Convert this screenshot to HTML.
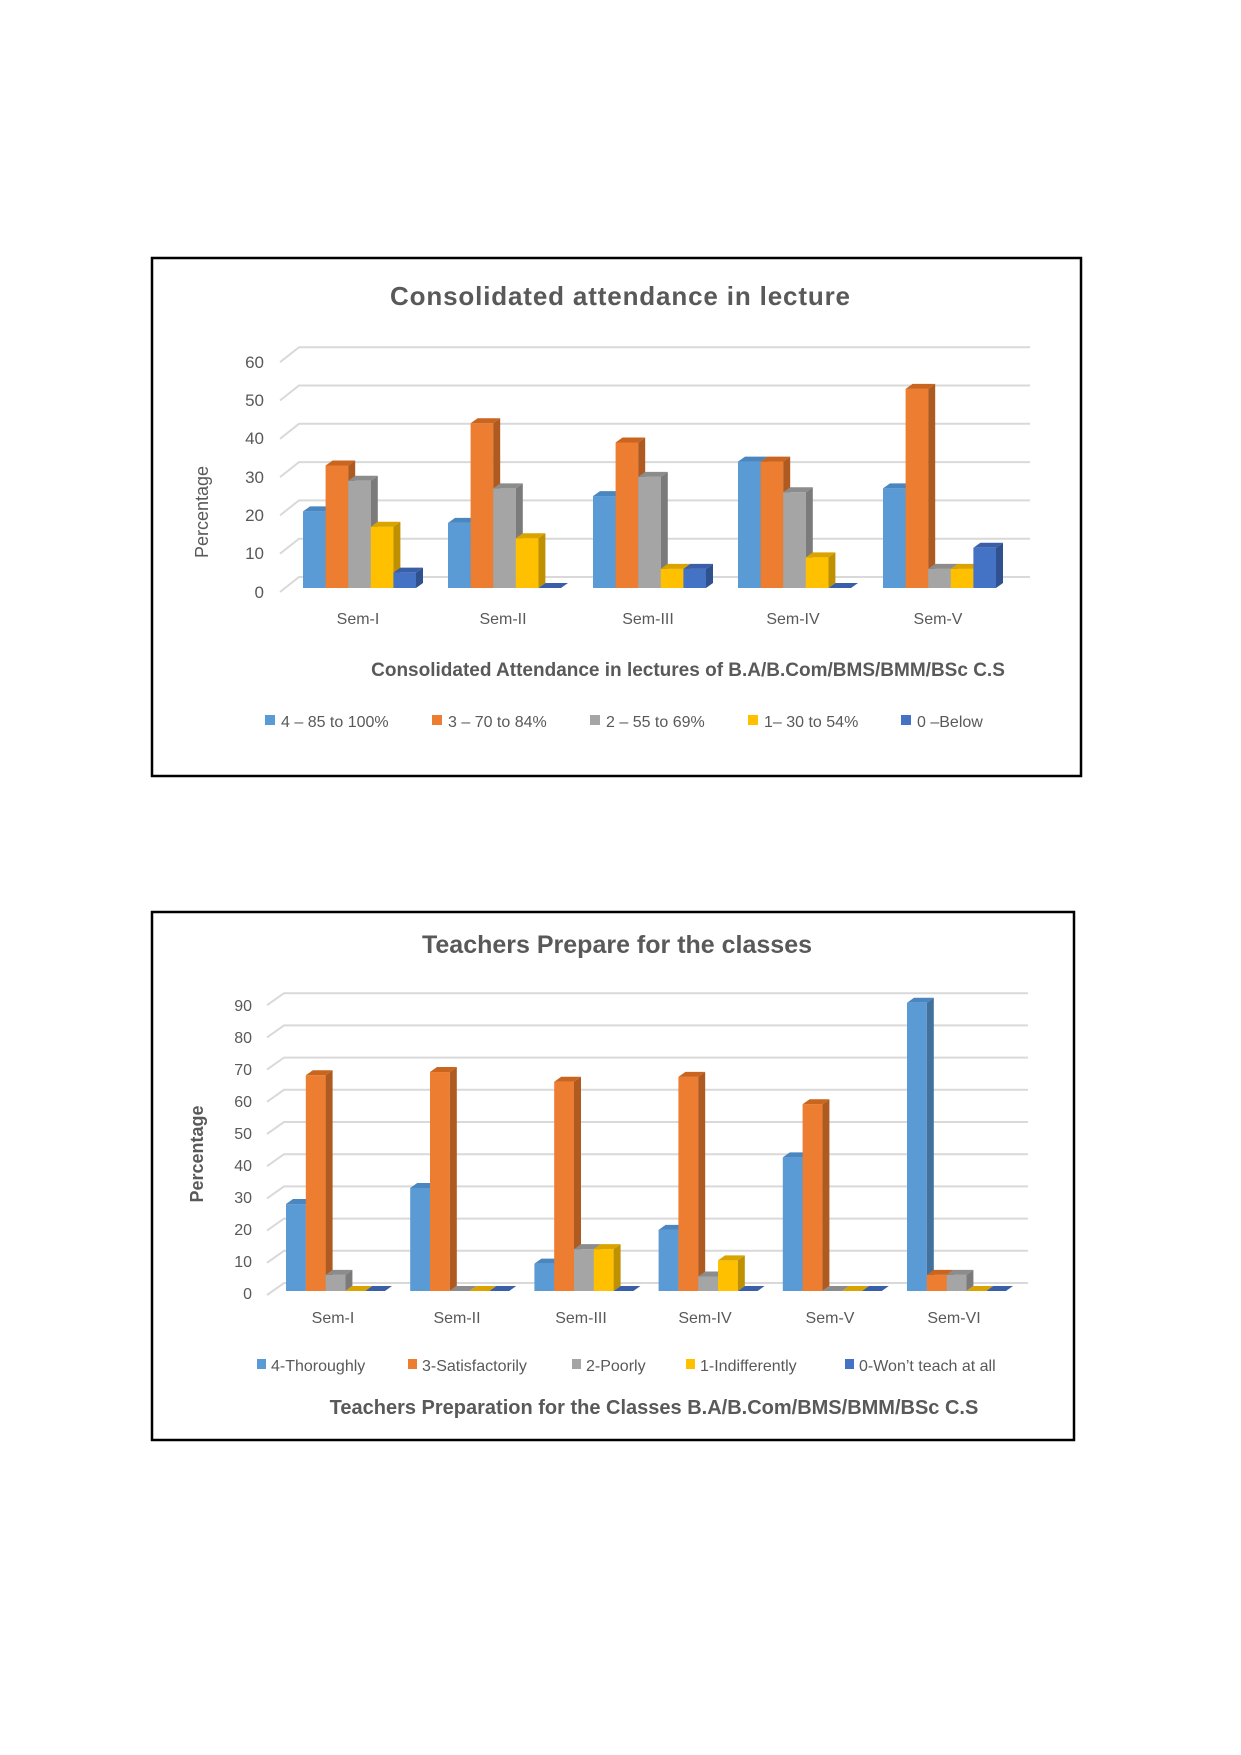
<!DOCTYPE html>
<html><head><meta charset="utf-8"><style>
html,body{margin:0;padding:0;background:#fff;}
svg{display:block;font-family:"Liberation Sans",sans-serif;}
</style></head><body>
<svg id="s" width="1241" height="1755" viewBox="0 0 1241 1755">
<rect x="152" y="258" width="929" height="518" fill="#fff" stroke="#000" stroke-width="2.5"/>
<rect x="152" y="912" width="922" height="528" fill="#fff" stroke="#000" stroke-width="2.5"/>
<g id="g1"></g><g id="g2"></g>
<g fill="#595959">
<text x="620" y="305" font-size="26" font-weight="bold" text-anchor="middle" textLength="460">Consolidated attendance in lecture</text>
<g font-size="17" text-anchor="end">
<text x="264" y="368">60</text><text x="264" y="406">50</text><text x="264" y="444">40</text><text x="264" y="483">30</text><text x="264" y="521">20</text><text x="264" y="559">10</text><text x="264" y="598">0</text>
</g>
<text transform="translate(208,512) rotate(-90)" font-size="18" text-anchor="middle">Percentage</text>
<g font-size="16" text-anchor="middle">
<text x="358" y="624">Sem-I</text><text x="503" y="624">Sem-II</text><text x="648" y="624">Sem-III</text><text x="793" y="624">Sem-IV</text><text x="938" y="624">Sem-V</text>
</g>
<text x="688" y="676" font-size="19" font-weight="bold" text-anchor="middle">Consolidated Attendance in lectures of B.A/B.Com/BMS/BMM/BSc  C.S</text>
<g font-size="16">
<rect x="265" y="715" width="10" height="10" fill="#5B9BD5"/><text x="281" y="727">4 – 85 to 100%</text>
<rect x="432" y="715" width="10" height="10" fill="#ED7D31"/><text x="448" y="727">3 – 70 to 84%</text>
<rect x="590" y="715" width="10" height="10" fill="#A5A5A5"/><text x="606" y="727">2 – 55 to 69%</text>
<rect x="748" y="715" width="10" height="10" fill="#FFC000"/><text x="764" y="727">1– 30 to 54%</text>
<rect x="901" y="715" width="10" height="10" fill="#4472C4"/><text x="917" y="727">0 –Below</text>
</g>
<text x="617" y="953" font-size="25" font-weight="bold" text-anchor="middle">Teachers Prepare for the classes</text>
<g font-size="16" text-anchor="end">
<text x="252" y="1011">90</text><text x="252" y="1043">80</text><text x="252" y="1075">70</text><text x="252" y="1107">60</text><text x="252" y="1139">50</text><text x="252" y="1171">40</text><text x="252" y="1203">30</text><text x="252" y="1235">20</text><text x="252" y="1267">10</text><text x="252" y="1299">0</text>
</g>
<text transform="translate(203,1154) rotate(-90)" font-size="18" font-weight="bold" text-anchor="middle">Percentage</text>
<g font-size="16" text-anchor="middle">
<text x="333" y="1323">Sem-I</text><text x="457" y="1323">Sem-II</text><text x="581" y="1323">Sem-III</text><text x="705" y="1323">Sem-IV</text><text x="830" y="1323">Sem-V</text><text x="954" y="1323">Sem-VI</text>
</g>
<g font-size="16">
<rect x="257" y="1359" width="9" height="10" fill="#5B9BD5"/><text x="271" y="1371">4-Thoroughly</text>
<rect x="408" y="1359" width="9" height="10" fill="#ED7D31"/><text x="422" y="1371">3-Satisfactorily</text>
<rect x="572" y="1359" width="9" height="10" fill="#A5A5A5"/><text x="586" y="1371">2-Poorly</text>
<rect x="686" y="1359" width="9" height="10" fill="#FFC000"/><text x="700" y="1371">1-Indifferently</text>
<rect x="845" y="1359" width="9" height="10" fill="#4472C4"/><text x="859" y="1371">0-Won’t teach at all</text>
</g>
<text x="654" y="1414" font-size="20" font-weight="bold" text-anchor="middle">Teachers Preparation for the Classes B.A/B.Com/BMS/BMM/BSc C.S</text>
</g>
</svg>
<script>
var NS="http://www.w3.org/2000/svg";
var F=["#5B9BD5","#ED7D31","#A5A5A5","#FFC000","#4472C4"];
var S=["#41719C","#AE5A21","#7B7B7B","#BF9000","#2F528F"];
var T=["#4A86C0","#C9651F","#8C8C8C","#D9A400","#3A5FA8"];
function el(g,t,a){var e=document.createElementNS(NS,t);for(var k in a)e.setAttribute(k,a[k]);g.appendChild(e);}
function chart(id,o){
 var g=document.getElementById(id);
 for(var v=0;v<=o.max;v+=10){
  var yb=o.back0-v*o.k, yf=o.base+4-v*o.k;
  el(g,"polyline",{points:(o.fx)+","+(yf)+" "+(o.fx+o.dx)+","+yb+" "+o.right+","+yb,fill:"none",stroke:"#D9D9D9","stroke-width":2});
 }
 o.data.forEach(function(grp,i){
  var x0=o.start+i*o.sp;
  grp.forEach(function(v,j){
   var x=x0+j*o.w, h=v*o.k, top=o.base-h, d=7, dy=5;
   if(h>0){
    el(g,"rect",{x:x,y:top,width:o.w,height:h,fill:F[j]});
    el(g,"polygon",{points:(x+o.w)+","+top+" "+(x+o.w+d)+","+(top-dy)+" "+(x+o.w+d)+","+(o.base-dy)+" "+(x+o.w)+","+o.base,fill:S[j]});
   }
   el(g,"polygon",{points:x+","+top+" "+(x+d)+","+(top-dy)+" "+(x+o.w+d)+","+(top-dy)+" "+(x+o.w)+","+top,fill:T[j]});
  });
 });
}
chart("g1",{max:60,k:3.83,back0:577,base:588,fx:280,dx:19,right:1030,start:303,sp:145,w:22.6,
 data:[[20,32,28,16,4],[17,43,26,13,0],[24,38,29,5,5],[33,33,25,8,0],[26,52,5,5,10.5]]});
chart("g2",{max:90,k:3.22,back0:1283,base:1291,fx:267,dx:17,right:1028,start:286,sp:124.2,w:19.8,
 data:[[27,67,5,0,0],[32,68,0,0,0],[8.5,65,13,13,0],[19,66.5,4.5,9.5,0],[41.5,58,0,0,0],[89.5,5,5,0,0]]});
</script>
</body></html>
